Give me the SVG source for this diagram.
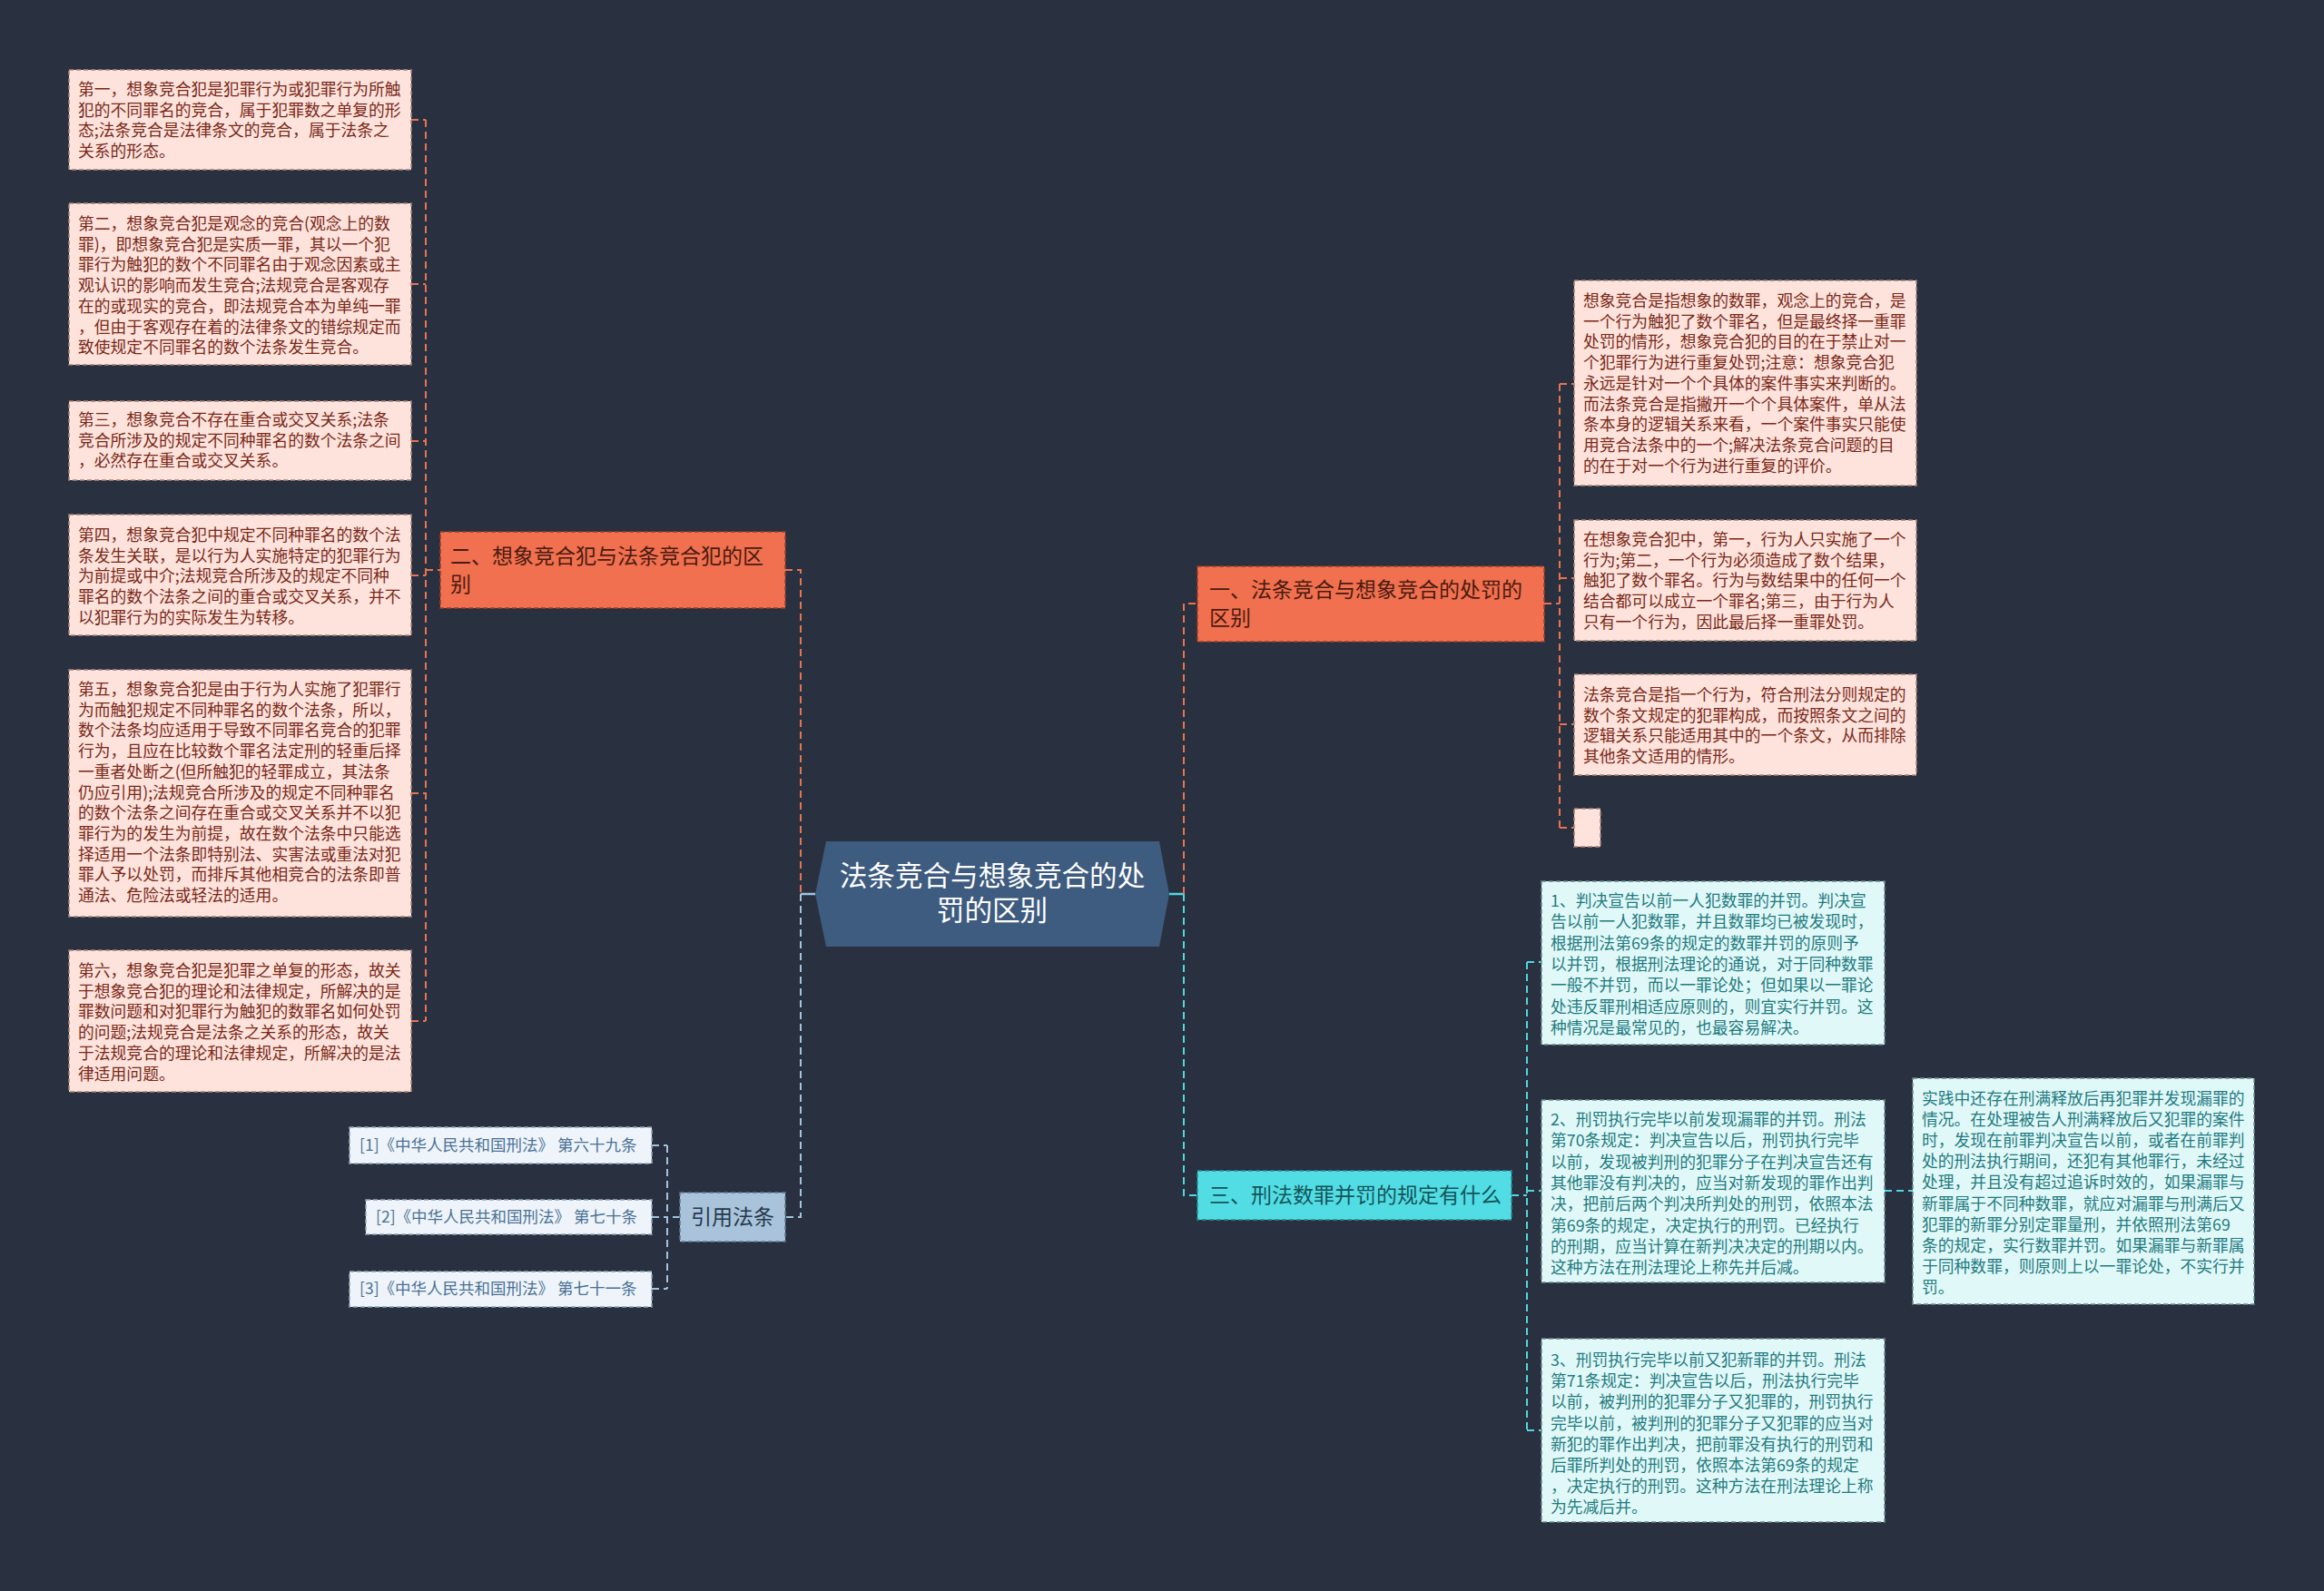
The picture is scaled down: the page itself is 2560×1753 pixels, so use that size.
<svg xmlns="http://www.w3.org/2000/svg" width="2560" height="1753" viewBox="0 0 2560 1753">
<style>
text{font-family:"Noto Sans CJK SC","Noto Sans",sans-serif}
.pk{fill:#fde3dc;stroke:#a98478;stroke-width:1.5;stroke-dasharray:5,3}
.cy{fill:#e1f8f8;stroke:#6a8c8e;stroke-width:1.5;stroke-dasharray:5,3}
.rf{fill:#eef4f9;stroke:#8fa6bb;stroke-width:1.5;stroke-dasharray:5,3}
.tp{font-size:17.8px;fill:#7a2818}
.tc{font-size:17.8px;fill:#1f7b80}
.tr{font-size:17.5px;fill:#4a7196}
.or{fill:#f0704f;stroke:#9a3e28;stroke-width:1.5;stroke-dasharray:5,3}
.cb{fill:#52dde4;stroke:#2a8e95;stroke-width:1.5;stroke-dasharray:5,3}
.lb{fill:#a9c3da;stroke:#5f7a94;stroke-width:1.5;stroke-dasharray:5,3}
.tb{font-size:23px;fill:#4a1a10}
.tcb{font-size:23px;fill:#14555a}
.tlb{font-size:23px;fill:#25384d}
.co{fill:none;stroke:#e8744f;stroke-width:2;stroke-dasharray:8,5}
.cc{fill:none;stroke:#4fd8e0;stroke-width:2;stroke-dasharray:8,5}
.cl{fill:none;stroke:#a2c4de;stroke-width:2;stroke-dasharray:8,5}
</style>
<rect width="2560" height="1753" fill="#29303f"/>
<g id="connectors">
<path class="co" d="M453 132H469M453 313H469M453 486H469M453 634H469M453 874H469M453 1125H469M469 132V1125M469 628H485"/>
<path class="co" d="M865 628H882V985"/>
<path class="cl" d="M882 985V1341H865"/>
<path d="M898 985H882" stroke="#a2c4de" stroke-width="2.5"/>
<path class="cl" d="M749 1341H735M735 1262V1420M718 1262H735M718 1341H735M718 1420H735"/>
<path d="M1288 985H1304" stroke="#4fd8e0" stroke-width="2.5"/>
<path class="co" d="M1304 985V665H1319"/>
<path class="cc" d="M1304 985V1317H1319"/>
<path class="co" d="M1701 665H1718M1718 423V912M1718 423H1734M1718 637H1734M1718 798H1734M1718 912H1734"/>
<path class="cc" d="M1665 1317H1682M1682 1060V1576M1682 1060H1698M1682 1312H1698M1682 1576H1698M2076 1312H2107"/>
</g>
<g id="center">
<polygon points="910,927 1277,927 1288,985 1277,1043 910,1043 898,985" fill="#3e5b80"/>
<text x="1093" y="976" text-anchor="middle" font-size="30.6px" fill="#ffffff">法条竞合与想象竞合的处</text>
<text x="1093" y="1014" text-anchor="middle" font-size="30.6px" fill="#ffffff">罚的区别</text>
</g>
<g id="node-er">
<rect class="or" x="485" y="586" width="380" height="84"/>
<text class="tb" x="496" y="621">二、想象竞合犯与法条竞合犯的区</text>
<text class="tb" x="496" y="652">别</text>
</g>
<g id="node-yi">
<rect class="or" x="1319" y="624" width="382" height="83"/>
<text class="tb" x="1332" y="658">一、法条竞合与想象竞合的处罚的</text>
<text class="tb" x="1332" y="689">区别</text>
</g>
<g id="node-san">
<rect class="cb" x="1319" y="1290" width="346" height="54"/>
<text class="tcb" x="1332" y="1325">三、刑法数罪并罚的规定有什么</text>
</g>
<g id="node-yinyong">
<rect class="lb" x="749" y="1314" width="116" height="54"/>
<text class="tlb" x="807" y="1349" text-anchor="middle">引用法条</text>
</g>
<g id="ref1"><rect class="rf" x="385" y="1242" width="333" height="40"/><text class="tr" x="396" y="1268">[1]《中华人民共和国刑法》 第六十九条</text></g>
<g id="ref2"><rect class="rf" x="403" y="1322" width="315" height="38"/><text class="tr" x="414" y="1347">[2]《中华人民共和国刑法》 第七十条</text></g>
<g id="ref3"><rect class="rf" x="385" y="1401" width="333" height="39"/><text class="tr" x="396" y="1426">[3]《中华人民共和国刑法》 第七十一条</text></g>
<g id="L1"><rect class="pk" x="76" y="77" width="377" height="110"/>
<text class="tp" x="86" y="105"><tspan x="86">第一，想象竞合犯是犯罪行为或犯罪行为所触</tspan><tspan x="86" dy="22.7">犯的不同罪名的竞合，属于犯罪数之单复的形</tspan><tspan x="86" dy="22.7">态;法条竞合是法律条文的竞合，属于法条之</tspan><tspan x="86" dy="22.7">关系的形态。</tspan></text></g>
<g id="L2"><rect class="pk" x="76" y="224" width="377" height="178"/>
<text class="tp" x="86" y="253"><tspan x="86">第二，想象竞合犯是观念的竞合(观念上的数</tspan><tspan x="86" dy="22.7">罪)，即想象竞合犯是实质一罪，其以一个犯</tspan><tspan x="86" dy="22.7">罪行为触犯的数个不同罪名由于观念因素或主</tspan><tspan x="86" dy="22.7">观认识的影响而发生竞合;法规竞合是客观存</tspan><tspan x="86" dy="22.7">在的或现实的竞合，即法规竞合本为单纯一罪</tspan><tspan x="86" dy="22.7">，但由于客观存在着的法律条文的错综规定而</tspan><tspan x="86" dy="22.7">致使规定不同罪名的数个法条发生竞合。</tspan></text></g>
<g id="L3"><rect class="pk" x="76" y="442" width="377" height="87"/>
<text class="tp" x="86" y="469"><tspan x="86">第三，想象竞合不存在重合或交叉关系;法条</tspan><tspan x="86" dy="22.7">竞合所涉及的规定不同种罪名的数个法条之间</tspan><tspan x="86" dy="22.7">，必然存在重合或交叉关系。</tspan></text></g>
<g id="L4"><rect class="pk" x="76" y="567" width="377" height="133"/>
<text class="tp" x="86" y="596"><tspan x="86">第四，想象竞合犯中规定不同种罪名的数个法</tspan><tspan x="86" dy="22.7">条发生关联，是以行为人实施特定的犯罪行为</tspan><tspan x="86" dy="22.7">为前提或中介;法规竞合所涉及的规定不同种</tspan><tspan x="86" dy="22.7">罪名的数个法条之间的重合或交叉关系，并不</tspan><tspan x="86" dy="22.7">以犯罪行为的实际发生为转移。</tspan></text></g>
<g id="L5"><rect class="pk" x="76" y="738" width="377" height="272"/>
<text class="tp" x="86" y="766"><tspan x="86">第五，想象竞合犯是由于行为人实施了犯罪行</tspan><tspan x="86" dy="22.7">为而触犯规定不同种罪名的数个法条，所以，</tspan><tspan x="86" dy="22.7">数个法条均应适用于导致不同罪名竞合的犯罪</tspan><tspan x="86" dy="22.7">行为，且应在比较数个罪名法定刑的轻重后择</tspan><tspan x="86" dy="22.7">一重者处断之(但所触犯的轻罪成立，其法条</tspan><tspan x="86" dy="22.7">仍应引用);法规竞合所涉及的规定不同种罪名</tspan><tspan x="86" dy="22.7">的数个法条之间存在重合或交叉关系并不以犯</tspan><tspan x="86" dy="22.7">罪行为的发生为前提，故在数个法条中只能选</tspan><tspan x="86" dy="22.7">择适用一个法条即特别法、实害法或重法对犯</tspan><tspan x="86" dy="22.7">罪人予以处罚，而排斥其他相竞合的法条即普</tspan><tspan x="86" dy="22.7">通法、危险法或轻法的适用。</tspan></text></g>
<g id="L6"><rect class="pk" x="76" y="1047" width="377" height="156"/>
<text class="tp" x="86" y="1076"><tspan x="86">第六，想象竞合犯是犯罪之单复的形态，故关</tspan><tspan x="86" dy="22.7">于想象竞合犯的理论和法律规定，所解决的是</tspan><tspan x="86" dy="22.7">罪数问题和对犯罪行为触犯的数罪名如何处罚</tspan><tspan x="86" dy="22.7">的问题;法规竞合是法条之关系的形态，故关</tspan><tspan x="86" dy="22.7">于法规竞合的理论和法律规定，所解决的是法</tspan><tspan x="86" dy="22.7">律适用问题。</tspan></text></g>
<g id="R1"><rect class="pk" x="1734" y="309" width="377" height="226"/>
<text class="tp" x="1744" y="338"><tspan x="1744">想象竞合是指想象的数罪，观念上的竞合，是</tspan><tspan x="1744" dy="22.7">一个行为触犯了数个罪名，但是最终择一重罪</tspan><tspan x="1744" dy="22.7">处罚的情形，想象竞合犯的目的在于禁止对一</tspan><tspan x="1744" dy="22.7">个犯罪行为进行重复处罚;注意：想象竞合犯</tspan><tspan x="1744" dy="22.7">永远是针对一个个具体的案件事实来判断的。</tspan><tspan x="1744" dy="22.7">而法条竞合是指撇开一个个具体案件，单从法</tspan><tspan x="1744" dy="22.7">条本身的逻辑关系来看，一个案件事实只能使</tspan><tspan x="1744" dy="22.7">用竞合法条中的一个;解决法条竞合问题的目</tspan><tspan x="1744" dy="22.7">的在于对一个行为进行重复的评价。</tspan></text></g>
<g id="R2"><rect class="pk" x="1734" y="573" width="377" height="133"/>
<text class="tp" x="1744" y="601"><tspan x="1744">在想象竞合犯中，第一，行为人只实施了一个</tspan><tspan x="1744" dy="22.7">行为;第二，一个行为必须造成了数个结果，</tspan><tspan x="1744" dy="22.7">触犯了数个罪名。行为与数结果中的任何一个</tspan><tspan x="1744" dy="22.7">结合都可以成立一个罪名;第三，由于行为人</tspan><tspan x="1744" dy="22.7">只有一个行为，因此最后择一重罪处罚。</tspan></text></g>
<g id="R3"><rect class="pk" x="1734" y="743" width="377" height="111"/>
<text class="tp" x="1744" y="772"><tspan x="1744">法条竞合是指一个行为，符合刑法分则规定的</tspan><tspan x="1744" dy="22.7">数个条文规定的犯罪构成，而按照条文之间的</tspan><tspan x="1744" dy="22.7">逻辑关系只能适用其中的一个条文，从而排除</tspan><tspan x="1744" dy="22.7">其他条文适用的情形。</tspan></text></g>
<g id="R4"><rect class="pk" x="1734" y="891" width="29" height="42"/></g>
<g id="C1"><rect class="cy" x="1698" y="971" width="378" height="180"/>
<text class="tc" x="1708" y="999"><tspan x="1708">1、判决宣告以前一人犯数罪的并罚。判决宣</tspan><tspan x="1708" dy="23.3">告以前一人犯数罪，并且数罪均已被发现时，</tspan><tspan x="1708" dy="23.3">根据刑法第69条的规定的数罪并罚的原则予</tspan><tspan x="1708" dy="23.3">以并罚，根据刑法理论的通说，对于同种数罪</tspan><tspan x="1708" dy="23.3">一般不并罚，而以一罪论处；但如果以一罪论</tspan><tspan x="1708" dy="23.3">处违反罪刑相适应原则的，则宜实行并罚。这</tspan><tspan x="1708" dy="23.3">种情况是最常见的，也最容易解决。</tspan></text></g>
<g id="C2"><rect class="cy" x="1698" y="1212" width="378" height="201"/>
<text class="tc" x="1708" y="1240"><tspan x="1708">2、刑罚执行完毕以前发现漏罪的并罚。刑法</tspan><tspan x="1708" dy="23.3">第70条规定：判决宣告以后，刑罚执行完毕</tspan><tspan x="1708" dy="23.3">以前，发现被判刑的犯罪分子在判决宣告还有</tspan><tspan x="1708" dy="23.3">其他罪没有判决的，应当对新发现的罪作出判</tspan><tspan x="1708" dy="23.3">决，把前后两个判决所判处的刑罚，依照本法</tspan><tspan x="1708" dy="23.3">第69条的规定，决定执行的刑罚。已经执行</tspan><tspan x="1708" dy="23.3">的刑期，应当计算在新判决决定的刑期以内。</tspan><tspan x="1708" dy="23.3">这种方法在刑法理论上称先并后减。</tspan></text></g>
<g id="C3"><rect class="cy" x="1698" y="1475" width="378" height="202"/>
<text class="tc" x="1708" y="1505"><tspan x="1708">3、刑罚执行完毕以前又犯新罪的并罚。刑法</tspan><tspan x="1708" dy="23.2">第71条规定：判决宣告以后，刑法执行完毕</tspan><tspan x="1708" dy="23.2">以前，被判刑的犯罪分子又犯罪的，刑罚执行</tspan><tspan x="1708" dy="23.2">完毕以前，被判刑的犯罪分子又犯罪的应当对</tspan><tspan x="1708" dy="23.2">新犯的罪作出判决，把前罪没有执行的刑罚和</tspan><tspan x="1708" dy="23.2">后罪所判处的刑罚，依照本法第69条的规定</tspan><tspan x="1708" dy="23.2">，决定执行的刑罚。这种方法在刑法理论上称</tspan><tspan x="1708" dy="23.2">为先减后并。</tspan></text></g>
<g id="D1"><rect class="cy" x="2107" y="1188" width="376" height="249"/>
<text class="tc" x="2117" y="1217"><tspan x="2117">实践中还存在刑满释放后再犯罪并发现漏罪的</tspan><tspan x="2117" dy="23.1">情况。在处理被告人刑满释放后又犯罪的案件</tspan><tspan x="2117" dy="23.1">时，发现在前罪判决宣告以前，或者在前罪判</tspan><tspan x="2117" dy="23.1">处的刑法执行期间，还犯有其他罪行，未经过</tspan><tspan x="2117" dy="23.1">处理，并且没有超过追诉时效的，如果漏罪与</tspan><tspan x="2117" dy="23.1">新罪属于不同种数罪，就应对漏罪与刑满后又</tspan><tspan x="2117" dy="23.1">犯罪的新罪分别定罪量刑，并依照刑法第69</tspan><tspan x="2117" dy="23.1">条的规定，实行数罪并罚。如果漏罪与新罪属</tspan><tspan x="2117" dy="23.1">于同种数罪，则原则上以一罪论处，不实行并</tspan><tspan x="2117" dy="23.1">罚。</tspan></text></g>
</svg>
